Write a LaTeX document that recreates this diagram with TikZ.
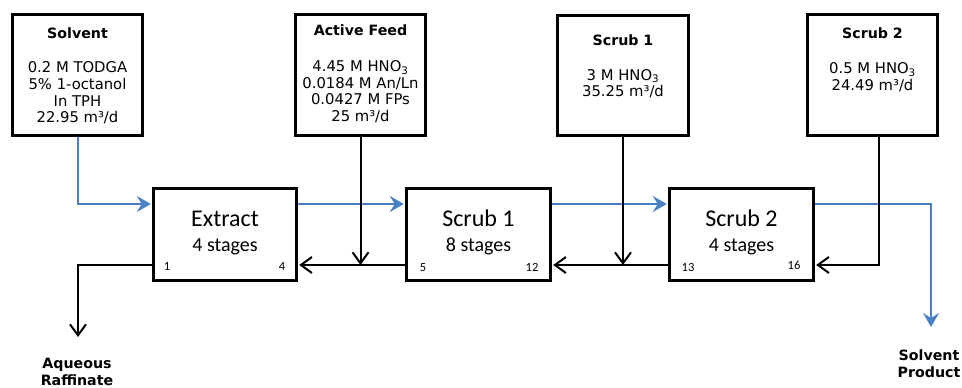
\documentclass[tikz,border=0pt]{standalone}
\usepackage{fontspec}
\newfontfamily\vfont{DejaVu Sans}
\newfontfamily\cfont{Carlito}
\usetikzlibrary{arrows.meta}
\definecolor{flowblue}{RGB}{74,128,196}
\begin{document}
\begin{tikzpicture}[x=1pt,y=-1pt,
  box/.style={draw,line width=2.8pt,inner sep=0pt},
  ttl/.style={font=\vfont\bfseries\fontsize{14.2}{17}\selectfont,anchor=base,inner sep=0pt,align=center},
  body/.style={font=\vfont\fontsize{14.8}{16.6}\selectfont,align=center,anchor=base,inner sep=0pt},
  big/.style={font=\cfont\fontsize{24}{28}\selectfont,anchor=base,inner sep=0pt},
  stg/.style={font=\cfont\fontsize{20}{24}\selectfont,anchor=base,inner sep=0pt},
  num/.style={font=\cfont\fontsize{12.5}{14}\selectfont,anchor=base,inner sep=0pt},
  bflow/.style={draw=flowblue,line width=2pt,-{Stealth[length=14pt,width=16pt,inset=5pt]}},
  kflow/.style={draw=black,line width=2pt,-{Straight Barb[length=11pt,width=16pt]}}
]
\useasboundingbox (0,0) rectangle (962,388);

% feed boxes
\node[box,minimum width=130pt,minimum height=121pt] (solv) at (77.5,75) {};
\node[box,minimum width=130pt,minimum height=121pt] (feed) at (360.5,75) {};
\node[box,minimum width=131pt,minimum height=120pt] (tsa) at (623,75.5) {};
\node[box,minimum width=130pt,minimum height=121pt] (tsb) at (872.5,75) {};

% stage boxes
\node[box,minimum width=143pt,minimum height=92pt] (ext) at (225,234.5) {};
\node[box,minimum width=144pt,minimum height=92pt] (sa) at (478.5,234.5) {};
\node[box,minimum width=144pt,minimum height=92pt] (sb) at (741.5,234.5) {};

% feed box texts (base anchor = last line's baseline)
\node[ttl] (solvT) at (77.5,38) {Solvent};
\node[body] (solvB) at (77.5,122.7) {0.2 M TODGA\\5\% 1-octanol\\In TPH\\22.95 m³/d};
\node[ttl] (feedT) at (360.5,35.5) {Active Feed};
\node[body] (feedB) at (360.5,121.5) {4.45 M HNO\textsubscript{3}\\0.0184 M An/Ln\\0.0427 M FPs\\25 m³/d};
\node[ttl] (tsaT) at (623,45.5) {Scrub 1};
\node[body] (tsaB) at (623,96.7) {3 M HNO\textsubscript{3}\\35.25 m³/d};
\node[ttl] (tsbT) at (872.5,38.8) {Scrub 2};
\node[body] (tsbB) at (872.5,90) {0.5 M HNO\textsubscript{3}\\24.49 m³/d};

% stage box texts
\node[big] (extT) at (225,226.7) {Extract};
\node[stg] (extS) at (225,251.7) {4 stages};
\node[big] (saT) at (478.5,226.7) {Scrub 1};
\node[stg] (saS) at (478.5,251.7) {8 stages};
\node[big] (sbT) at (741.5,226.7) {Scrub 2};
\node[stg] (sbS) at (741.5,251.7) {4 stages};
\node[num] (n1) at (167,270) {1};
\node[num] (n4) at (282,270) {4};
\node[num] (n5) at (423,271) {5};
\node[num] (n12) at (532,271) {12};
\node[num] (n13) at (688,271) {13};
\node[num] (n16) at (794,269) {16};

% organic (blue) flow
\coordinate (sp) at (931,327);
\draw[bflow,shorten >=1.3pt] (solv.south) |- ([yshift=30.5pt]ext.west);
\draw[bflow,shorten >=1.3pt] ([yshift=30.5pt]ext.east) -- ([yshift=30.5pt]sa.west);
\draw[bflow,shorten >=1.3pt] ([yshift=30.5pt]sa.east) -- ([yshift=30.5pt]sb.west);
\draw[bflow] ([yshift=30.5pt]sb.east) -| (sp);

% aqueous (black) flow
\coordinate (j1) at (360.5,265);
\coordinate (j2) at (623,265);
\coordinate (ar) at (78,337);
\draw[kflow] (feed.south) -- (j1);
\draw[kflow] (tsa.south) -- (j2);
\draw[kflow,shorten >=1.3pt] ([yshift=-30.5pt]sa.west) -- ([yshift=-30.5pt]ext.east);
\draw[kflow,shorten >=1.3pt] ([yshift=-30.5pt]sb.west) -- ([yshift=-30.5pt]sa.east);
\draw[kflow,shorten >=1.3pt] ([xshift=6.5pt]tsb.south) |- ([yshift=-30.5pt]sb.east);
\draw[kflow] ([yshift=-30.5pt]ext.west) -| (ar);

% outlet labels
\node[ttl] (arlab) at (77,385) {Aqueous\\Raffinate};
\node[ttl] (splab) at (929,377.5) {Solvent\\Product};
\end{tikzpicture}
\end{document}
